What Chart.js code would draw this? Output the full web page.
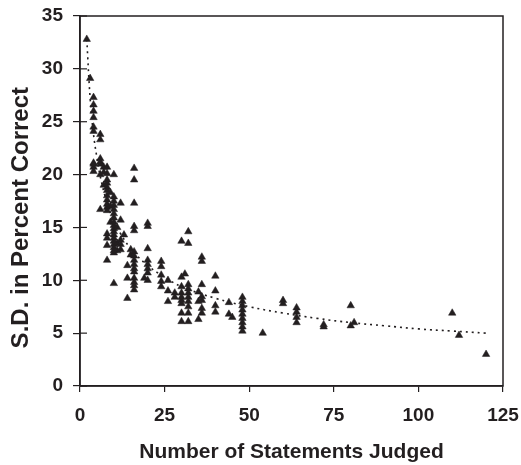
<!DOCTYPE html>
<html lang="en">
<head>
  <meta charset="UTF-8" />
  <title>S.D. vs Number of Statements</title>
  <script src="https://cdn.jsdelivr.net/npm/chart.js@4.4.1/dist/chart.umd.min.js"></script>
  <style>
    body { margin: 0; background: #fff; }
    #wrap { width: 521px; height: 465px; }
  </style>
</head>
<body>
  <div id="wrap"><canvas id="sdChart" width="521" height="465"></canvas></div>

  <script>
    // observed points, one column of x values with its y values
    const statementCounts = [2, 3, 4, 4, 4, 4, 4, 4, 4, 4, 4, 4,
      6, 6, 6, 6, 6, 6, 6, 7, 7, 7,
      8, 8, 8, 8, 8, 8, 8, 8, 8, 8, 8, 8, 8, 8, 8, 9, 9, 9,
      10, 10, 10, 10, 10, 10, 10, 10, 10, 10, 10, 10, 10, 10, 10, 10, 10, 10, 10,
      11, 11, 11, 12, 12, 12, 12, 12, 13, 14, 14, 14, 15, 15,
      16, 16, 16, 16, 16, 16, 16, 16, 16, 16, 16, 16, 16, 16, 16,
      19, 20, 20, 20, 20, 20, 20, 20, 20,
      24, 24, 24, 24, 24, 26, 26, 26, 28, 28,
      30, 30, 30, 30, 30, 30, 30, 30, 30, 31,
      32, 32, 32, 32, 32, 32, 32, 32, 32, 32,
      35, 35, 35, 36, 36, 36, 36, 36, 36, 36,
      40, 40, 40, 40, 44, 44, 45,
      48, 48, 48, 48, 48, 48, 48, 48, 48, 54,
      60, 60, 64, 64, 64, 64, 72, 72, 80, 80, 81, 110, 112, 120];
    const sdValues = [32.8, 29.1, 27.3, 26.6, 26.0, 25.4, 24.5, 24.1, 21.1, 20.7, 20.3, 21.0,
      23.8, 23.3, 21.5, 21.2, 20.0, 16.7, 21.0, 20.7, 20.2, 19.0,
      20.7, 20.1, 19.5, 19.2, 18.8, 18.5, 18.0, 17.6, 17.2, 16.9, 16.6, 14.4, 13.3, 11.9, 14.0, 18.3, 17.0, 15.5,
      20.0, 17.9, 17.5, 17.1, 16.7, 16.3, 15.9, 15.5, 15.2, 14.9, 14.6, 14.3, 14.0, 13.7, 13.4, 13.1, 12.8, 12.6, 9.7,
      15.0, 13.5, 12.8, 17.3, 15.7, 13.8, 13.4, 12.9, 14.3, 11.4, 10.2, 8.3, 12.9, 12.4,
      20.6, 19.5, 17.3, 15.1, 14.7, 12.7, 12.3, 11.9, 11.5, 11.1, 10.8, 10.2, 9.8, 9.5, 9.1,
      10.2, 15.4, 15.1, 13.0, 11.9, 11.5, 11.1, 10.7, 10.0,
      11.8, 11.3, 10.5, 9.9, 9.4, 10.0, 9.0, 8.0, 8.8, 8.4,
      13.7, 10.3, 9.4, 8.8, 8.4, 8.1, 7.8, 6.9, 6.1, 10.6,
      14.6, 13.5, 9.6, 9.2, 8.8, 8.4, 8.0, 7.5, 6.9, 6.1,
      8.9, 8.0, 6.3, 12.2, 11.8, 9.6, 8.45, 8.1, 7.35, 6.9,
      10.4, 9.0, 7.6, 7.0, 7.9, 6.8, 6.5,
      8.4, 8.0, 7.6, 7.2, 6.8, 6.4, 6.0, 5.6, 5.2, 5.0,
      8.1, 7.8, 7.4, 7.0, 6.5, 6.0, 5.8, 5.6, 7.6, 5.7, 6.0, 6.9, 4.8, 3.0];

    // dotted trend curve
    const trendX = [2, 3, 4, 5, 6, 8, 10, 12, 15, 20, 25, 30, 40, 50, 60, 70, 80, 90, 100, 110, 120];
    const trendY = [32.8, 27.2, 23.8, 21.6, 19.8, 17.3, 15.6, 14.4, 13.0, 11.4, 10.3, 9.4, 8.3, 7.5, 6.9, 6.4, 6.0, 5.7, 5.4, 5.2, 5.0];

    const xTicks = [0, 25, 50, 75, 100, 125];
    const yTicks = [0, 5, 10, 15, 20, 25, 30, 35];

    const ink = '#231f20';
    const family = 'Arial, "Liberation Sans", sans-serif';
    const labelFont = { family: family, size: 19, weight: 'bold' };

    const points = statementCounts.map((x, i) => ({ x: x, y: sdValues[i] }));
    const trend = trendX.map((x, i) => ({ x: x, y: trendY[i] }));

    // box round the plot plus the inner half of the left ticks
    const frame = {
      id: 'frame',
      afterDraw(chart) {
        const a = chart.chartArea;
        const c = chart.ctx;
        c.save();
        c.strokeStyle = ink;
        c.lineWidth = 1.5;
        c.strokeRect(a.left, a.top, a.right - a.left, a.bottom - a.top);
        c.lineWidth = 1.2;
        yTicks.forEach(v => {
          const py = chart.scales.y.getPixelForValue(v);
          c.beginPath();
          c.moveTo(a.left, py);
          c.lineTo(a.left + 7, py);
          c.stroke();
        });
        c.restore();
      }
    };

    new Chart(document.getElementById('sdChart'), {
      type: 'scatter',
      data: {
        datasets: [
          {
            label: 'Trend',
            data: trend,
            showLine: true,
            borderColor: ink,
            borderWidth: 1.6,
            borderDash: [2, 4],
            pointRadius: 0,
            tension: 0.4,
            order: 2
          },
          {
            label: 'S.D.',
            data: points,
            pointStyle: 'triangle',
            pointRadius: 4.3,
            backgroundColor: ink,
            borderColor: ink,
            borderWidth: 0.5,
            order: 1
          }
        ]
      },
      options: {
        responsive: false,
        animation: false,
        layout: { padding: { top: 16, right: 18, left: 2, bottom: 0 } },
        plugins: { legend: { display: false }, tooltip: { enabled: false } },
        scales: {
          x: {
            type: 'linear',
            min: 0, max: 125,
            afterBuildTicks: s => { s.ticks = xTicks.map(v => ({ value: v })); },
            afterFit: s => { s.height = 79; s.paddingLeft = 0; s.paddingRight = 0; },
            grid: { drawOnChartArea: false, color: ink, tickLength: 6, lineWidth: 1.2 },
            border: { color: ink, width: 1.5 },
            ticks: { color: ink, font: labelFont, padding: 12, maxRotation: 0 },
            title: { display: true, text: 'Number of Statements Judged', color: ink,
              font: { family: family, size: 21, weight: 'bold' }, padding: { top: 8, bottom: 0 } }
          },
          y: {
            type: 'linear',
            min: 0, max: 35,
            afterBuildTicks: s => { s.ticks = yTicks.map(v => ({ value: v })); },
            afterFit: s => { s.width = 78; s.paddingTop = 0; s.paddingBottom = 0; },
            grid: { drawOnChartArea: false, color: ink, tickLength: 7, lineWidth: 1.2 },
            border: { color: ink, width: 1.5 },
            ticks: { color: ink, font: labelFont, padding: 10 },
            title: { display: true, text: 'S.D. in Percent Correct\u00a0\u00a0\u00a0\u00a0\u00a0', color: ink,
              font: { family: family, size: 24, weight: 'bold' }, padding: { top: 5, bottom: 0 } }
          }
        }
      },
      plugins: [frame]
    });
  </script>
</body>
</html>
